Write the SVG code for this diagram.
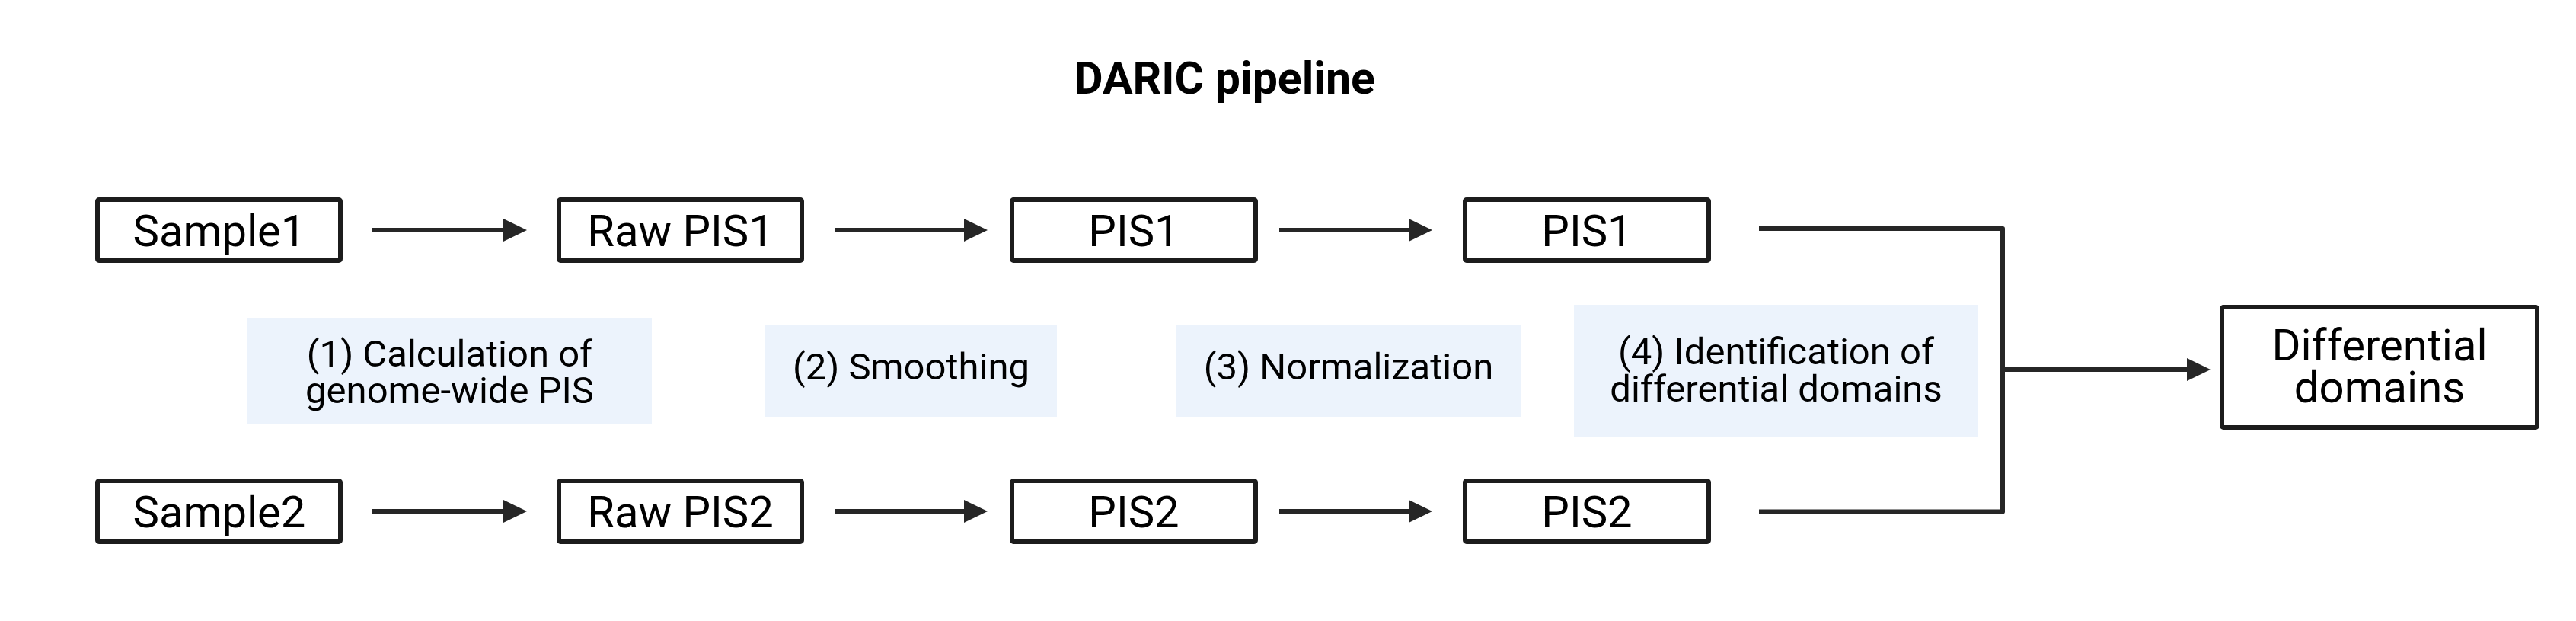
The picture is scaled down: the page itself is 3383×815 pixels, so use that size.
<svg xmlns="http://www.w3.org/2000/svg" width="3383" height="815" viewBox="0 0 3383 815">
<defs>
<style>
.box{fill:#ffffff;stroke:#1c1c1c;stroke-width:6;}
.lbl{fill:#ecf3fc;}
.t{font-family:Roboto,"Liberation Sans",sans-serif;fill:#000;text-anchor:middle;}
.bt{font-size:58px;}
.lt{font-size:49px;}
.con{fill:none;stroke:#262626;stroke-width:6;stroke-linejoin:round;}
</style>
<marker id="ah" markerUnits="userSpaceOnUse" markerWidth="32" markerHeight="32" refX="2" refY="15" orient="auto" viewBox="0 0 32 32">
<path d="M0,0 L31,15 L0,30 Z" fill="#262626"/>
</marker>
</defs>
<rect width="3383" height="815" fill="#ffffff"/>
<text id="title" class="t" x="1608" y="123" font-size="59" font-weight="700">DARIC pipeline</text>

<g id="connectors">
<path class="con" d="M489,302 H663" marker-end="url(#ah)"/>
<path class="con" d="M1096,302 H1268" marker-end="url(#ah)"/>
<path class="con" d="M1680,302 H1852" marker-end="url(#ah)"/>
<path class="con" d="M489,671 H663" marker-end="url(#ah)"/>
<path class="con" d="M1096,671 H1268" marker-end="url(#ah)"/>
<path class="con" d="M1680,671 H1852" marker-end="url(#ah)"/>
<path class="con" d="M2310,300 H2630 V671.5 H2310"/>
<path class="con" d="M2630,485 H2874" marker-end="url(#ah)"/>
</g>

<g id="node-sample1"><rect class="box" x="128" y="262" width="319" height="80" rx="2"/><text class="t bt" x="288" y="323">Sample1</text></g>
<g id="node-rawpis1"><rect class="box" x="734" y="262" width="319" height="80" rx="2"/><text class="t bt" x="893.5" y="323">Raw PIS1</text></g>
<g id="node-pis1a"><rect class="box" x="1329" y="262" width="320" height="80" rx="2"/><text class="t bt" x="1489" y="323">PIS1</text></g>
<g id="node-pis1b"><rect class="box" x="1924" y="262" width="320" height="80" rx="2"/><text class="t bt" x="2084" y="323">PIS1</text></g>

<g id="node-sample2"><rect class="box" x="128" y="631" width="319" height="80" rx="2"/><text class="t bt" x="288" y="692">Sample2</text></g>
<g id="node-rawpis2"><rect class="box" x="734" y="631" width="319" height="80" rx="2"/><text class="t bt" x="893.5" y="692">Raw PIS2</text></g>
<g id="node-pis2a"><rect class="box" x="1329" y="631" width="320" height="80" rx="2"/><text class="t bt" x="1489" y="692">PIS2</text></g>
<g id="node-pis2b"><rect class="box" x="1924" y="631" width="320" height="80" rx="2"/><text class="t bt" x="2084" y="692">PIS2</text></g>

<g id="node-diff"><rect class="box" x="2918" y="403" width="414" height="158" rx="2"/><text class="t" font-size="58" x="3125" y="473">Differential</text><text class="t" font-size="58" x="3125" y="528">domains</text></g>

<g id="step1"><rect class="lbl" x="325" y="417" width="531" height="140"/><text class="t lt" x="590.5" y="480.5">(1) Calculation of</text><text class="t lt" x="590.5" y="528.5">genome-wide PIS</text></g>
<g id="step2"><rect class="lbl" x="1005" y="427" width="383" height="120"/><text class="t lt" x="1196.5" y="498">(2) Smoothing</text></g>
<g id="step3"><rect class="lbl" x="1545" y="427" width="453" height="120"/><text class="t lt" x="1771" y="498">(3) Normalization</text></g>
<g id="step4"><rect class="lbl" x="2067" y="400" width="531" height="174"/><text class="t lt" x="2332.5" y="478">(4) Identification of</text><text class="t lt" x="2332.5" y="527">differential domains</text></g>
</svg>
